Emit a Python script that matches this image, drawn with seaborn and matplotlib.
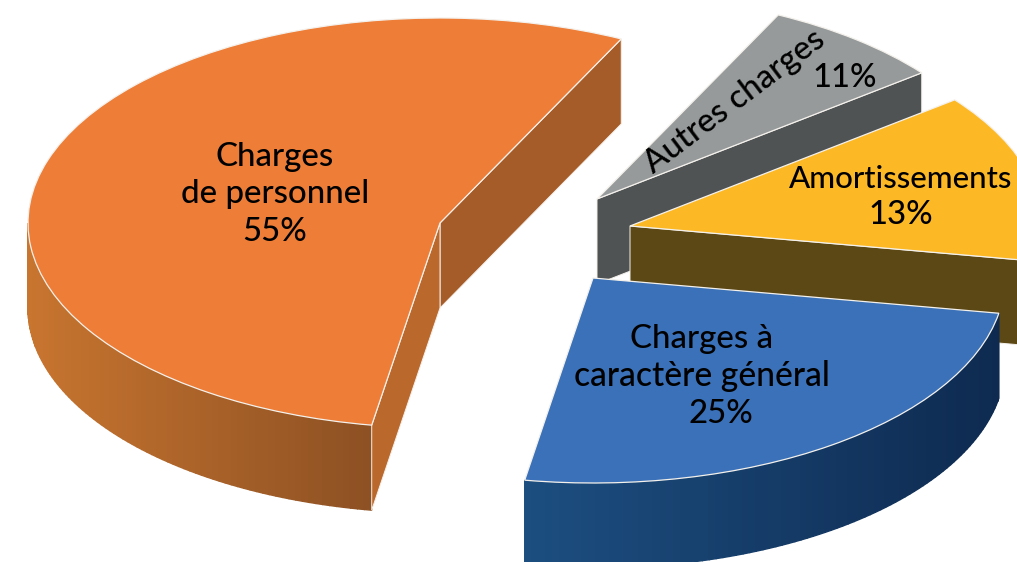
import numpy as np
import seaborn as sns
import matplotlib.pyplot as plt
from matplotlib.colors import to_rgb

W, H = 1017, 562
RX, RY = 412, 205   # demi-axes de l'ellipse en pixels
DEPTH = 85

# parts mesurées sur le dessin (les étiquettes donnent 55/25/13/11)
categories = ["Charges de personnel", "Charges à caractère général", "Amortissements", "Autres charges"]
parts = [54.6, 24.9, 13.3, 7.2]
etiquettes = ["55%", "25%", "13%", "11%"]
couleurs = ["#ED7D37", "#3A71B8", "#FDB925", "#969A9A"]
START_ANGLE = 63.9

centres = [(440, 223), (593, 278), (630, 226), (597, 199)]
face_debut = ["#A65C28", "#1C4E80", "#5C4815", "#505354"]
face_fin = ["#BB682C", "#1C4E80", "#5C4815", "#505354"]
mur_gauche = ["#C8752F", "#1C4E80", "#5C4815", "#505354"]
mur_droit = ["#8C5023", "#0E2A50", "#5C4815", "#505354"]
ordre = [3, 2, 1, 0]


def px(x, y):
    return x / RX, (H - y) / RY


sns.set_theme(style="white")
plt.rcParams["font.family"] = ["Lato", "DejaVu Sans"]

fig, ax = plt.subplots(figsize=(W / 100, H / 100), dpi=100)
fig.subplots_adjust(0, 0, 1, 1)

wedges, _ = ax.pie(parts, colors=couleurs, startangle=START_ANGLE,
                   wedgeprops={"edgecolor": "#F4F1EC", "linewidth": 0.9})
ax.set_aspect("auto")
ax.set_xlim(0, W / RX)
ax.set_ylim(0, H / RY)
ax.axis("off")

d = DEPTH / RY
for z, i in enumerate(ordre):
    w = wedges[i]
    cx, cy = px(*centres[i])
    w.set_center((cx, cy))
    w.set_zorder(10 * z + 3)
    t1, t2 = w.theta1, w.theta2

    # mur extérieur, dégradé par petites bandes
    a, b = max(t1, 180), min(t2, 360)
    if b > a:
        n = int(b - a) + 1
        angles = np.linspace(a, b, n + 1)
        c0, c1 = np.array(to_rgb(mur_gauche[i])), np.array(to_rgb(mur_droit[i]))
        for k in range(n):
            th = np.radians(angles[k:k + 2])
            xs = cx + np.cos(th)
            ys = cy + np.sin(th)
            pos = (np.cos(th[0]) - np.cos(np.radians(a))) / (np.cos(np.radians(b)) - np.cos(np.radians(a)))
            col = c0 + (c1 - c0) * pos
            ax.fill([xs[0], xs[1], xs[1], xs[0]], [ys[0], ys[1], ys[1] - d, ys[0] - d],
                    facecolor=col, edgecolor=col, lw=1.0, zorder=10 * z + 1)

    # faces radiales visibles
    for theta, coul, vis in [(t1, face_debut[i], np.sin(np.radians(t1 - 90)) < 0),
                             (t2, face_fin[i], np.sin(np.radians(t2 + 90)) < 0)]:
        if vis:
            ex = cx + np.cos(np.radians(theta))
            ey = cy + np.sin(np.radians(theta))
            ax.fill([cx, ex, ex, cx], [cy, ey, ey - d, cy - d], facecolor=coul,
                    edgecolor="#F4F1EC", lw=0.7, zorder=10 * z + 2)

lignes = [
    ("Charges", 275, 157, 0, 23.8), ("de personnel", 275, 194, 0, 23.8), (etiquettes[0], 275, 232, 0, 23.8),
    ("Charges à", 702, 339, 0, 23.8), ("caractère général", 702, 376, 0, 24.2), (etiquettes[1], 721, 414, 0, 23.8),
    (categories[2], 901, 179, 0, 22.5), (etiquettes[2], 901, 215, 0, 23.8),
    (categories[3], 735, 102, 37, 23.8), (etiquettes[3], 845, 78, 0, 23.8),
]
for txt, x, y, rot, taille in lignes:
    tx, ty = px(x, y)
    ax.text(tx, ty, txt, ha="center", va="center", rotation=rot, rotation_mode="anchor",
            fontsize=taille, fontweight="medium", color="black", zorder=100)

fig.savefig("out.png", dpi=100)
